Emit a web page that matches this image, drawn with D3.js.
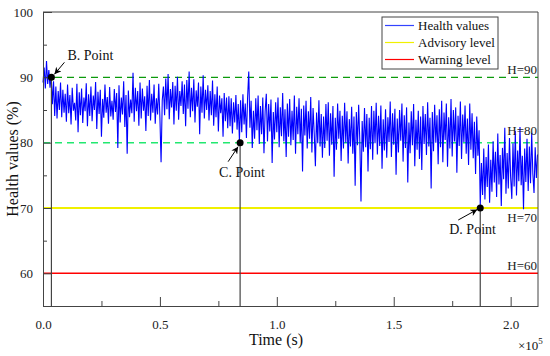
<!DOCTYPE html>
<html><head><meta charset="utf-8">
<script src="https://cdn.jsdelivr.net/npm/d3@7"></script>
<style>html,body{margin:0;padding:0;background:#fff;}svg{display:block;}</style>
</head><body>
<svg id="c" width="550" height="356"></svg>
<script>
// ---- data ----
const timeStart = 0;          // s
const timeStep = 500;         // s between samples
const healthValues = [
89.2,91.5,88.3,92.5,89.0,91.1,88.4,90.3,85.9,89.4,84.1,88.6,83.7,87.9,85.0,89.2,83.9,88.1,84.6,87.5,
83.2,88.9,84.5,87.3,82.8,88.4,84.9,86.1,83.4,89.0,81.6,87.7,84.2,88.3,83.0,86.9,84.8,89.1,82.5,87.4,
84.1,88.6,83.3,87.2,85.0,89.3,82.1,87.8,84.4,88.1,80.9,86.7,83.8,88.9,84.6,87.0,82.9,88.5,84.0,86.4,
83.5,88.2,84.7,87.6,79.2,88.8,83.1,86.9,84.3,89.4,82.4,87.3,78.3,88.0,83.9,86.6,84.5,90.7,83.2,88.4,
84.8,87.9,82.6,89.2,83.7,88.3,84.9,87.1,81.8,88.7,84.1,89.6,83.4,87.5,84.6,88.9,82.9,86.8,84.3,89.0,
83.8,77.0,86.5,88.6,84.2,89.8,85.1,90.5,83.6,88.2,85.4,89.3,82.8,88.7,84.9,90.1,83.5,87.9,85.6,89.4,
84.4,88.9,82.5,89.6,85.2,90.9,83.9,88.4,84.8,89.7,83.1,88.0,85.5,89.2,81.3,88.6,84.6,90.3,83.7,88.1,
85.0,88.8,83.4,87.9,84.2,89.5,82.6,87.4,83.9,88.6,81.7,87.2,84.5,86.8,80.9,87.6,83.3,86.9,82.2,87.1,
82.5,86.8,81.4,86.2,83.1,87.3,82.0,85.9,80.3,86.5,81.6,87.4,82.8,86.0,80.7,86.9,90.9,82.3,86.4,79.2,
84.9,80.6,86.8,81.9,87.2,79.8,85.6,81.3,86.9,78.4,84.8,87.5,80.2,85.9,81.7,86.6,76.9,84.7,80.5,86.2,
81.6,86.9,79.3,85.4,81.0,87.6,80.2,85.1,77.8,86.0,80.9,86.7,79.6,84.9,80.4,87.2,78.3,85.5,81.3,86.8,
80.0,85.2,75.6,85.7,81.1,86.4,79.1,84.8,80.6,87.0,78.5,85.3,81.4,76.4,84.6,79.9,86.5,79.4,84.4,77.7,
84.0,79.2,85.9,80.3,86.2,78.0,84.5,79.7,85.6,74.8,83.8,78.9,86.0,80.6,84.9,77.2,84.1,79.1,86.1,80.0,
84.8,76.8,83.6,79.4,85.5,78.3,84.0,73.4,84.7,79.6,85.8,80.2,71.0,83.3,78.6,85.3,79.3,84.4,75.6,83.8,
79.0,85.6,77.4,84.9,79.9,86.1,78.2,84.1,79.5,85.7,76.0,83.6,78.8,85.1,77.7,83.9,80.1,86.3,77.8,84.5,
79.7,85.2,75.1,83.7,78.5,85.0,80.3,86.0,77.1,84.2,79.2,85.4,73.9,83.1,78.4,84.8,79.6,85.9,76.4,83.5,
78.9,84.9,77.5,84.0,75.8,85.6,79.8,84.4,78.1,86.2,79.4,83.8,73.0,84.7,78.7,85.8,80.0,84.2,76.7,85.1,
79.3,86.4,77.0,84.6,80.4,86.0,76.3,83.9,79.1,86.7,77.9,85.0,80.2,85.4,75.4,84.1,79.5,86.3,77.5,84.3,
80.1,85.7,78.3,83.7,76.6,86.0,78.9,84.5,77.6,83.2,75.2,84.0,78.0,81.9,70.4,76.9,72.0,79.1,71.3,77.8,
73.2,79.7,70.8,77.4,72.5,80.2,73.9,78.6,71.7,81.4,73.6,78.1,70.3,79.2,74.4,82.3,72.2,78.4,73.0,80.7,
74.7,71.4,79.9,73.3,81.8,71.9,78.8,74.1,82.4,73.5,78.0,69.8,79.1,74.0,80.6,72.6,79.4,73.8,81.5,75.2,
72.3,79.3,74.6,78.2
];
const thresholdValues = [90, 80, 70, 60];
const thresholdLabels = ["H=90", "H=80", "H=70", "H=60"];
const legendLabels = ["Health values", "Advisory level", "Warning level"];
const markerNames = ["B. Point", "C. Point", "D. Point"];
const markerTimes = [3600, 84300, 187000];
const markerValues = [90, 80, 70];
const xTickValues = [0, 0.5e5, 1.0e5, 1.5e5, 2.0e5];
const xTickLabels = ["0.0", "0.5", "1.0", "1.5", "2.0"];
const xMinorTicks = [0.25e5, 0.75e5, 1.25e5, 1.75e5];
const yTickValues = [60, 70, 80, 90, 100];
const yMinorTicks = [55, 65, 75, 85, 95];
const xDomain = [0, 2.117e5];
const yDomain = [55, 100];

// ---- styles ----
const FONT = "'Times New Roman', Times, 'Liberation Serif', 'Nimbus Roman', serif";
const thresholdStyles = [
  {color: "#0c9a0c", dash: "7,5", width: 1.3},
  {color: "#22e870", dash: "7,5", width: 1.5},
  {color: "#f0f000", dash: null, width: 1.8},
  {color: "#ff0000", dash: null, width: 1.5}
];
const legendColors = ["#3344ff", "#f0f000", "#ff0000"];
const axisColor = "#444";

const svg = d3.select("#c").attr("font-family", FONT);
const m = {left: 43, right: 538, top: 12, bottom: 306};
const x = d3.scaleLinear().domain(xDomain).range([m.left, m.right]);
const y = d3.scaleLinear().domain(yDomain).range([m.bottom, m.top]);

// threshold lines
thresholdValues.forEach((v, i) => {
  const s = thresholdStyles[i];
  svg.append("line").attr("x1", x(xDomain[0])).attr("x2", x(xDomain[1]))
    .attr("y1", y(v)).attr("y2", y(v))
    .attr("stroke", s.color).attr("stroke-width", s.width)
    .attr("stroke-dasharray", s.dash);
});

// data line
const series = healthValues.map((v, i) => [timeStart + i * timeStep, v]);
svg.append("path").datum(series)
  .attr("fill", "none").attr("stroke", "#0000ff").attr("stroke-width", 1.1)
  .attr("stroke-linejoin", "miter")
  .attr("d", d3.line().x(d => x(d[0])).y(d => y(d[1])));

// vertical marker lines
markerTimes.forEach((t, i) => {
  svg.append("line").attr("x1", x(t)).attr("x2", x(t))
    .attr("y1", y(markerValues[i])).attr("y2", y(yDomain[0]))
    .attr("stroke", "#444").attr("stroke-width", 1.2);
});

// axes
const xAxis = svg.append("g").attr("transform", `translate(0,${m.bottom})`)
  .call(d3.axisBottom(x).tickValues(xTickValues).tickSizeInner(-9).tickSizeOuter(0)
    .tickFormat((d, i) => xTickLabels[i]).tickPadding(14));
xAxis.attr("font-family", FONT).attr("font-size", 13);
xAxis.selectAll(".tick line").attr("stroke", axisColor);
xAxis.select(".domain").attr("stroke", axisColor);
xAxis.selectAll("text").attr("fill", "#222").attr("dy", "0.71em");
const xMinor = svg.append("g").attr("transform", `translate(0,${m.bottom})`)
  .call(d3.axisBottom(x).tickValues(xMinorTicks).tickSizeInner(-5).tickSizeOuter(0).tickFormat(""));
xMinor.select(".domain").remove();
xMinor.selectAll(".tick line").attr("stroke", axisColor);

const yAxis = svg.append("g").attr("transform", `translate(${m.left},0)`)
  .call(d3.axisLeft(y).tickValues(yTickValues).tickSizeInner(-9).tickSizeOuter(0).tickPadding(10));
yAxis.attr("font-family", FONT).attr("font-size", 13);
yAxis.selectAll(".tick line").attr("stroke", axisColor);
yAxis.select(".domain").attr("stroke", axisColor);
yAxis.selectAll("text").attr("fill", "#222");
const yMinor = svg.append("g").attr("transform", `translate(${m.left},0)`)
  .call(d3.axisLeft(y).tickValues(yMinorTicks).tickSizeInner(-4).tickSizeOuter(0).tickFormat(""));
yMinor.select(".domain").remove();
yMinor.selectAll(".tick line").attr("stroke", axisColor);

// frame (top/right)
svg.append("path")
  .attr("d", `M${m.left},${m.top}H${m.right}V${m.bottom}`)
  .attr("fill", "none").attr("stroke", axisColor).attr("stroke-width", 1);

// threshold labels
const thrLabelDy = [-3, -8, 14, -3];
thresholdValues.forEach((v, i) => {
  svg.append("text").attr("x", m.right - 1).attr("y", y(v) + thrLabelDy[i])
    .attr("text-anchor", "end").attr("font-size", 13).attr("fill", "#222")
    .text(thresholdLabels[i]);
});

// markers + arrows
svg.append("defs").append("marker").attr("id", "ah")
  .attr("viewBox", "0 0 10 10").attr("refX", 10).attr("refY", 5)
  .attr("markerWidth", 9).attr("markerHeight", 7).attr("markerUnits", "userSpaceOnUse")
  .attr("orient", "auto")
  .append("path").attr("d", "M0,0L10,5L0,10L3,5Z").attr("fill", "#000");

const arrowFrom = [[13, -15], [-12, 19], [-22, 12]];
const arrowTo = [[3, -3], [-2, 4], [-3, 1.5]];
const textOff = [[16, -17], [-21, 34], [-31, 26]];
markerTimes.forEach((t, i) => {
  const px = x(t), py = y(markerValues[i]);
  svg.append("line").attr("x1", px + arrowFrom[i][0]).attr("y1", py + arrowFrom[i][1])
    .attr("x2", px + arrowTo[i][0]).attr("y2", py + arrowTo[i][1])
    .attr("stroke", "#000").attr("stroke-width", 1).attr("marker-end", "url(#ah)");
  svg.append("circle").attr("cx", px).attr("cy", py).attr("r", 3.5).attr("fill", "#000");
  svg.append("text").attr("x", px + textOff[i][0]).attr("y", py + textOff[i][1])
    .attr("font-size", 14).attr("fill", "#111").text(markerNames[i]);
});

// legend
const lg = svg.append("g").attr("transform", "translate(382,17)");
lg.append("rect").attr("width", 116).attr("height", 52).attr("fill", "#fff")
  .attr("stroke", "#444").attr("stroke-width", 1);
legendLabels.forEach((l, i) => {
  const ly = 8.5 + i * 17;
  lg.append("line").attr("x1", 3).attr("x2", 32).attr("y1", ly).attr("y2", ly)
    .attr("stroke", legendColors[i]).attr("stroke-width", 1.2);
  lg.append("text").attr("x", 36).attr("y", ly + 4.5).attr("font-size", 13)
    .attr("fill", "#111").text(l);
});

// axis titles
svg.append("text").attr("x", 276).attr("y", 345).attr("text-anchor", "middle")
  .attr("font-size", 16).attr("fill", "#111").text("Time (s)");
svg.append("text").attr("transform", "translate(18,159) rotate(-90)")
  .attr("text-anchor", "middle").attr("font-size", 16).attr("fill", "#111")
  .text("Health values (%)");
const ex = svg.append("text").attr("x", 518).attr("y", 350).attr("font-size", 13).attr("fill", "#111");
ex.append("tspan").text("×10");
ex.append("tspan").attr("dy", -6).attr("font-size", 9).text("5");
</script>
</body></html>
